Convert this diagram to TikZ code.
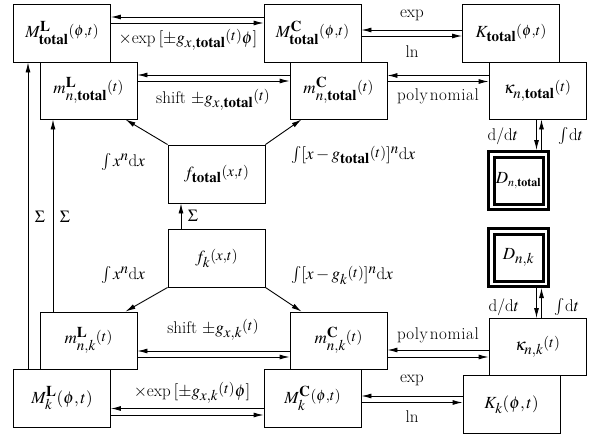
\documentclass[tikz,border=0pt]{standalone}
\usepackage{amsmath}
\usepackage{mathptmx}
\usepackage{tikz}
\usetikzlibrary{arrows.meta}
\DeclareMathSizes{17}{17}{15}{12}
\newcommand{\pa}[1]{\raisebox{2.5pt}{$\scriptstyle(#1)$}}
\newcommand{\tot}{\mathbf{total}}

\begin{document}
\begin{tikzpicture}[x=1pt, y=-1pt,
  box/.style={rectangle, draw, fill=white, line width=0.9pt,
              minimum width=97pt, minimum height=57pt, inner sep=1pt,
              font=\fontsize{17}{19}\selectfont},
  bigbox/.style={box, minimum height=58pt},
  dbox/.style={rectangle, draw, fill=white, double, double distance=2.5pt,
               line width=3pt, minimum width=54.5pt, minimum height=52.5pt,
               outer sep=4.25pt, inner sep=1pt, font=\fontsize{17}{19}\selectfont},
  lbl/.style={inner sep=1pt, font=\fontsize{17}{19}\selectfont},
  arrow/.style={-{Latex[length=10pt,width=5pt]}, line width=0.9pt}
]
\useasboundingbox (0,0) rectangle (594,439);

\node[bigbox] (MLtot) at (62,33) {$M^{\mathbf{L}}_{\tot}\pa{\phi,t}$};
\node[bigbox] (MCtot) at (312.5,33) {$M^{\mathbf{C}}_{\tot}\pa{\phi,t}$};
\node[bigbox] (Ktot) at (511,33) {$K_{\tot}\pa{\phi,t}$};
\node[box] (mLtot) at (88.5,90.5) {$m^{\mathbf{L}}_{n,\tot}\pa{t}$};
\node[box] (mCtot) at (338.5,90.5) {$m^{\mathbf{C}}_{n,\tot}\pa{t}$};
\node[box] (kaptot) at (537.5,90.5) {$\kappa_{n,\tot}\pa{t}$};
\node[bigbox] (ftot) at (216.5,174) {$f_{\tot}\pa{x,t}$};
\node[bigbox] (fk) at (216.5,258) {$f_{k}\pa{x,t}$};
\node[dbox] (Dtot) at (518.5,180.5) {$D_{\scriptscriptstyle n,\tot}$};
\node[dbox] (Dk) at (518.5,257.5) {$D_{n,k}$};
\node[box] (mLk) at (88.5,340.5) {$m^{\mathbf{L}}_{n,k}\pa{t}$};
\node[box] (mCk) at (338.5,340.5) {$m^{\mathbf{C}}_{n,k}\pa{t}$};
\node[box] (kapk) at (537.5,347) {$\kappa_{n,k}\pa{t}$};
\node[bigbox] (MLk) at (62,398.5) {$M^{\mathbf{L}}_{k}(\phi,t)$};
\node[bigbox] (MCk) at (312.5,398.5) {$M^{\mathbf{C}}_{k}\pa{\phi,t}$};
\node[bigbox] (Kk) at (511.5,404.5) {$K_{k}(\phi,t)$};

\draw[arrow] ([yshift=16pt]MCtot.west) -- ([yshift=16pt]MCtot.west -| MLtot.east);
\draw[arrow] ([yshift=10pt]MLtot.east) -- ([yshift=10pt]MLtot.east -| MCtot.west);
\draw[arrow] ([yshift=15.5pt]mCtot.west) -- ([yshift=15.5pt]mCtot.west -| mLtot.east);
\draw[arrow] ([yshift=9.5pt]mLtot.east) -- ([yshift=9.5pt]mLtot.east -| mCtot.west);
\draw[arrow] ([yshift=3pt]Ktot.west) -- ([yshift=3pt]Ktot.west -| MCtot.east);
\draw[arrow] ([yshift=-3pt]MCtot.east) -- ([yshift=-3pt]MCtot.east -| Ktot.west);
\draw[arrow] ([yshift=15pt]kaptot.west) -- ([yshift=15pt]kaptot.west -| mCtot.east);
\draw[arrow] ([yshift=9pt]mCtot.east) -- ([yshift=9pt]mCtot.east -| kaptot.west);

\draw[arrow] ([yshift=-10.5pt]mCk.west) -- ([yshift=-10.5pt]mCk.west -| mLk.east);
\draw[arrow] ([yshift=-16.5pt]mLk.east) -- ([yshift=-16.5pt]mLk.east -| mCk.west);
\draw[arrow] ([yshift=-10pt]MCk.west) -- ([yshift=-10pt]MCk.west -| MLk.east);
\draw[arrow] ([yshift=-16.5pt]MLk.east) -- ([yshift=-16.5pt]MLk.east -| MCk.west);
\draw[arrow] ([yshift=-3pt]kapk.west) -- ([yshift=-3pt]kapk.west -| mCk.east);
\draw[arrow] ([yshift=-16.5pt]mCk.east) -- ([yshift=-16.5pt]mCk.east -| kapk.west);
\draw[arrow] ([yshift=2.5pt]Kk.west |- MCk.east) -- ([yshift=2.5pt]MCk.east);
\draw[arrow] ([yshift=-4pt]MCk.east) -- ([yshift=-4pt]MCk.east -| Kk.west);

\draw[arrow] ([xshift=-1pt]kaptot.south) -- ([xshift=-1pt]kaptot.south |- Dtot.north);
\draw[arrow] ([xshift=4pt]kaptot.south |- Dtot.north) -- ([xshift=4pt]kaptot.south);
\draw[arrow] ([xshift=-1pt]kapk.north |- Dk.south) -- ([xshift=-1pt]kapk.north);
\draw[arrow] ([xshift=4pt]kapk.north) -- ([xshift=4pt]kapk.north |- Dk.south);

\draw[arrow] (ftot.north west) -- ([xshift=-12pt]mLtot.south east);
\draw[arrow] (ftot.north east) -- ([xshift=12pt]mCtot.south west);
\draw[arrow] (fk.south west) -- ([xshift=-12pt]mLk.north east);
\draw[arrow] (fk.south east) -- ([xshift=12pt]mCk.north west);
\draw[arrow] ([xshift=-35.5pt]fk.north) -- ([xshift=-35.5pt]fk.north |- ftot.south);
\draw[arrow] ([xshift=-34pt]MLk.north) -- ([xshift=-34pt]MLk.north |- MLtot.south);
\draw[arrow] ([xshift=-35.5pt]mLk.north) -- ([xshift=-35.5pt]mLk.north |- mLtot.south);

\node[lbl] (expLtot) at (188,40) {$\times$exp\,$[\pm g_{x,\tot}\pa{t}\phi]$};
\node[lbl] (shifttot) at (213,100) {shift $\pm g_{x,\tot}\pa{t}$};
\node[lbl] (exptot) at (412,15) {exp};
\node[lbl] (lntot) at (412,52) {ln};
\node[lbl] (polytot) at (438,96) {p\kern0.6pt o\kern0.6pt l\kern0.6pt y\kern2pt n\kern0.6pt o\kern0.6pt m\kern0.6pt i\kern0.6pt a\kern0.6pt l};
\node[lbl] (ddttot) at (503,136) {d/d$t$};
\node[lbl] (inttot) at (571,136) {$\int$d$t$};
\node[lbl] (xntot) at (123,162) {$\int x^{n}$d$x$};
\node[lbl, anchor=west] (gtot) at (290,155) {$\int[x-g_{\tot}\pa{t}]^{n}$d$x$};
\node[lbl] (sumf) at (193,216) {$\Sigma$};
\node[lbl] (sumM) at (40,217) {$\Sigma$};
\node[lbl] (summ) at (65,217) {$\Sigma$};
\node[lbl] (xnk) at (123,275) {$\int x^{n}$d$x$};
\node[lbl, anchor=west] (gk) at (290,275) {$\int[x-g_{k}\pa{t}]^{n}$d$x$};
\node[lbl] (ddtk) at (504,307) {d/d$t$};
\node[lbl] (intk) at (567,307) {$\int$d$t$};
\node[lbl] (shiftk) at (213,330) {shift $\pm g_{x,k}\pa{t}$};
\node[lbl] (polyk) at (438,335) {p\kern0.6pt o\kern0.6pt l\kern0.6pt y\kern2pt n\kern0.6pt o\kern0.6pt m\kern0.6pt i\kern0.6pt a\kern0.6pt l};
\node[lbl] (expk) at (412,380) {exp};
\node[lbl] (lnk) at (412,417) {ln};
\node[lbl] (expLk) at (192,393) {$\times$exp\,$[\pm g_{x,k}\pa{t}\phi]$};
\end{tikzpicture}
\end{document}
